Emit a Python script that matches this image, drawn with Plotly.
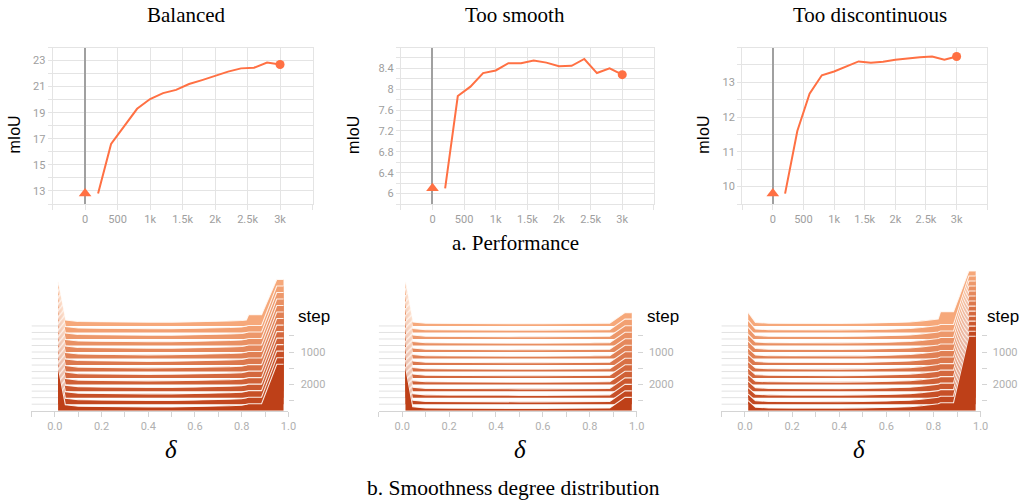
import plotly.graph_objects as go

# ---------------- data ----------------
perf_steps = [200, 400, 600, 800, 1000, 1200, 1400, 1600, 1800, 2000, 2200, 2400, 2600, 2800, 3000]
balanced_miou = [12.8, 16.6, 17.95, 19.3, 20.05, 20.5, 20.75, 21.2, 21.5, 21.85, 22.15, 22.4, 22.45, 22.85, 22.7]
smooth_miou = [6.1, 7.87, 8.05, 8.31, 8.36, 8.5, 8.5, 8.55, 8.51, 8.44, 8.45, 8.58, 8.31, 8.4, 8.28]
discont_miou = [9.8, 11.6, 12.67, 13.2, 13.31, 13.45, 13.6, 13.56, 13.59, 13.65, 13.69, 13.72, 13.74, 13.65, 13.74]

panel_titles = ["Balanced", "Too smooth", "Too discontinuous"]

x_tickvals = [-500, 0, 500, 1000, 1500, 2000, 2500, 3000, 3500]
x_ticktext = ["", "0", "500", "1k", "1.5k", "2k", "2.5k", "3k", ""]

y1_tickvals = [12, 13, 14, 15, 16, 17, 18, 19, 20, 21, 22, 23, 24]
y1_ticktext = ["", "13", "", "15", "", "17", "", "19", "", "21", "", "23", ""]
y2_tickvals = [5.8, 6.0, 6.2, 6.4, 6.6, 6.8, 7.0, 7.2, 7.4, 7.6, 7.8, 8.0, 8.2, 8.4, 8.6, 8.8]
y2_ticktext = ["", "6", "", "6.4", "", "6.8", "", "7.2", "", "7.6", "", "8", "", "8.4", "", ""]
y3_tickvals = [9.5, 10, 10.5, 11, 11.5, 12, 12.5, 13, 13.5, 14]
y3_ticktext = ["", "10", "", "11", "", "12", "", "13", "", ""]

# histogram (smoothness degree) ridges
ridge_steps = [200, 400, 600, 800, 1000, 1200, 1400, 1600, 1800, 2000, 2200, 2400, 2600, 2800]
delta_left = 0.014
delta_mid = [0.045, 0.1, 0.2, 0.3, 0.4, 0.5, 0.6, 0.7, 0.75, 0.8, 0.82]
delta_hump = [0.83, 0.875, 0.885]
delta_right = [0.95, 0.979]

balanced_profile = [6, 4.5, 4, 3.8, 3.7, 3.8, 4, 4.5, 5, 5.5, 6]
balanced_left = [44, 44, 44, 44, 44, 44, 44, 44, 44, 44, 44, 44, 44, 44]
balanced_hump = [11.3, 7, 7, 7, 7, 7, 7, 7, 7, 7, 7, 7, 7, 7]
balanced_right = [46.5, 46.5, 46.5, 46.5, 46.5, 46.5, 46.5, 46.5, 46.5, 46.5, 46.5, 46.5, 46.5, 46.5]

smooth_profile = [4, 2.8, 2.5, 2.4, 2.3, 2.3, 2.3, 2.4, 2.5, 2.6, 2.7]
smooth_left = [44, 44, 44, 44, 44, 44, 44, 44, 44, 44, 44, 44, 44, 44]
smooth_hump = [2.8, 2.8, 2.8, 2.8, 2.8, 2.8, 2.8, 2.8, 2.8, 2.8, 2.8, 2.8, 2.8, 2.8]
smooth_right = [13.3, 13.3, 13.3, 13.3, 13.3, 13.3, 13.3, 13.3, 13.3, 13.3, 13.3, 13.3, 13.3, 13.3]

discont_profile = [3.5, 2.8, 2.5, 2.5, 2.5, 2.7, 3, 4, 5, 6, 7]
discont_left = [13.5, 12, 11.5, 11, 11, 10.5, 10.5, 10, 10, 10, 10, 10, 10, 10]
discont_hump = [14.3, 8, 8, 8, 8, 8, 8, 8, 8, 8, 8, 8, 8, 8]
discont_right = [55, 56.5, 58, 59.5, 61, 62.5, 64, 65.5, 67, 68.5, 70, 71.5, 73, 74.5]

delta_tickvals = [-0.1, 0.0, 0.1, 0.2, 0.3, 0.4, 0.5, 0.6, 0.7, 0.8, 0.9, 1.0]
delta_ticktext = ["", "0.0", "", "0.2", "", "0.4", "", "0.6", "", "0.8", "", "1.0"]
step_tickvals = [500, 1000, 1500, 2000, 2500]
step_ticktext = ["", "1000", "", "2000", ""]

# ---------------- styling / layout helpers ----------------
W, H = 1029, 500
def fx(px):
    return px / W
def fy(px):
    return 1 - px / H

LINE_COLOR = "#ff7043"
GRID = "#e4e4e4"
TICK_FONT = dict(family="Roboto", size=11, color="#9e9e9e")
SERIF = "Liberation Serif"
SANS = "Liberation Sans"
DENSITY_TO_STEP = 1000 / 32.6  # one density unit = one screen pixel

top_x_px = [(53, 315), (404, 659), (748, 995)]
top_y_px = (47.5, 204)
top_data = [balanced_miou, smooth_miou, discont_miou]
top_yticks = [(y1_tickvals, y1_ticktext), (y2_tickvals, y2_ticktext), (y3_tickvals, y3_ticktext)]
top_yrange = [[12, 24], [5.8, 8.8], [9.5, 14]]

bot_x_px = [(31.7, 290.7), (381.7, 641.7), (727, 988.3)]
bot_y_px = (265, 410.7)
bot_yrange = [2800, 2800 - (410.7 - 265) * DENSITY_TO_STEP]
bot_data = [
    (balanced_profile, balanced_left, balanced_hump, balanced_right),
    (smooth_profile, smooth_left, smooth_hump, smooth_right),
    (discont_profile, discont_left, discont_hump, discont_right),
]

light = (246, 168, 122)
dark = (190, 64, 24)
n = len(ridge_steps)
ridge_colors = []
for i in range(n):
    t = i / (n - 1)
    c = tuple(round(light[k] + (dark[k] - light[k]) * t) for k in range(3))
    ridge_colors.append("rgb(%d,%d,%d)" % c)

fig = go.Figure()
layout = dict(
    width=W, height=H, margin=dict(l=0, r=0, t=0, b=0),
    paper_bgcolor="white", plot_bgcolor="white", showlegend=False,
)

# ---- top: performance curves ----
for k in range(3):
    xa = "x" if k == 0 else "x%d" % (k + 1)
    ya = "y" if k == 0 else "y%d" % (k + 1)
    xkey = "xaxis" if k == 0 else "xaxis%d" % (k + 1)
    ykey = "yaxis" if k == 0 else "yaxis%d" % (k + 1)
    vals = top_data[k]
    fig.add_trace(go.Scatter(x=perf_steps, y=vals, mode="lines",
                             line=dict(color=LINE_COLOR, width=2), xaxis=xa, yaxis=ya,
                             hoverinfo="skip"))
    fig.add_trace(go.Scatter(x=[perf_steps[-1]], y=[vals[-1]], mode="markers",
                             marker=dict(color=LINE_COLOR, size=9, symbol="circle"),
                             xaxis=xa, yaxis=ya))
    fig.add_trace(go.Scatter(x=[0], y=[vals[0]], mode="markers",
                             marker=dict(color=LINE_COLOR, size=11, symbol="triangle-up"),
                             xaxis=xa, yaxis=ya, cliponaxis=False))
    x0, x1 = top_x_px[k]
    layout[xkey] = dict(
        domain=[fx(x0), fx(x1)], anchor=ya, range=[-500, 3500],
        tickmode="array", tickvals=x_tickvals, ticktext=x_ticktext,
        showgrid=True, gridcolor=GRID, gridwidth=1,
        zeroline=True, zerolinecolor="#a0a0a0", zerolinewidth=1.5,
        showline=True, linecolor=GRID, mirror=True,
        ticks="outside", ticklen=5, tickcolor=GRID, tickfont=TICK_FONT,
    )
    tv, tt = top_yticks[k]
    layout[ykey] = dict(
        domain=[fy(top_y_px[1]), fy(top_y_px[0])], anchor=xa, range=top_yrange[k],
        tickmode="array", tickvals=tv, ticktext=tt,
        showgrid=True, gridcolor=GRID, gridwidth=1, zeroline=False,
        showline=True, linecolor=GRID, mirror=True,
        ticks="outside", ticklen=4, tickcolor=GRID, tickfont=TICK_FONT,
    )

# ---- bottom: smoothness-degree ridges ----
for k in range(3):
    idx = k + 4
    xa, ya = "x%d" % idx, "y%d" % idx
    profile, lefts, humps, rights = bot_data[k]
    # baselines at the left of the ridges
    bx, by = [], []
    for s in ridge_steps[:-1]:
        bx += [-0.1, delta_left, None]
        by += [s, s, None]
    fig.add_trace(go.Scatter(x=bx, y=by, mode="lines", line=dict(color="#e2e2e2", width=1),
                             xaxis=xa, yaxis=ya, hoverinfo="skip"))
    for i, s in enumerate(ridge_steps):
        heights = [lefts[i]] + profile + [humps[i]] * len(delta_hump) + [rights[i]] * len(delta_right)
        top_x = [delta_left] + delta_mid + delta_hump + delta_right
        top_y = [s - h * DENSITY_TO_STEP for h in heights]
        fig.add_trace(go.Scatter(x=[delta_left] + top_x + [delta_right[-1]],
                                 y=[s] + top_y + [s], mode="lines", fill="toself",
                                 fillcolor=ridge_colors[i], line=dict(width=0),
                                 xaxis=xa, yaxis=ya, hoverinfo="skip"))
        fig.add_trace(go.Scatter(x=top_x, y=top_y, mode="lines",
                                 line=dict(color="rgba(255,250,245,0.9)", width=1.1),
                                 xaxis=xa, yaxis=ya, hoverinfo="skip"))
    x0, x1 = bot_x_px[k]
    layout["xaxis%d" % idx] = dict(
        domain=[fx(x0), fx(x1)], anchor=ya, range=[-0.1, 1.0],
        tickmode="array", tickvals=delta_tickvals, ticktext=delta_ticktext,
        showgrid=False, zeroline=False, showline=True, linecolor="#d4d4d4",
        ticks="outside", ticklen=5, tickcolor="#d4d4d4",
        tickfont=dict(family="Roboto", size=11, color="#b0b0b0"),
    )
    layout["yaxis%d" % idx] = dict(
        domain=[fy(bot_y_px[1]), fy(bot_y_px[0])], anchor=xa, range=bot_yrange,
        side="right", tickmode="array", tickvals=step_tickvals, ticktext=step_ticktext,
        showgrid=False, zeroline=False, showline=False,
        ticks="outside", ticklen=5, tickcolor="#d4d4d4", ticklabelstandoff=4,
        tickfont=dict(family="Roboto", size=11, color="#b0b0b0"),
    )

# ---- annotations ----
ann = []
def add_text(text, xpx, ypx, family, size, angle=0):
    ann.append(dict(text=text, x=fx(xpx), y=fy(ypx), xref="paper", yref="paper",
                    xanchor="center", yanchor="middle", showarrow=False, textangle=angle,
                    font=dict(family=family, size=size, color="black")))

for title, xc in zip(panel_titles, [188, 519, 877]):
    add_text(title, xc, 15, SERIF, 21)
for xc in [13.7, 355.7, 708.3]:
    add_text("mIoU", xc, 135, SANS, 16, -90)
add_text("a. Performance", 520, 243, SERIF, 21)
for xc in [172, 524, 866]:
    add_text("<i>δ</i>", xc, 449, SERIF, 25)
for xc in [316, 668, 1011]:
    add_text("step", xc, 316, SANS, 17)
add_text("b. Smoothness degree distribution", 518, 488, SERIF, 21.5)

layout["annotations"] = ann
fig.update_layout(**layout)
fig.write_html("out.html", config={"displayModeBar": False},
               post_script="document.body.style.margin='0px';")
